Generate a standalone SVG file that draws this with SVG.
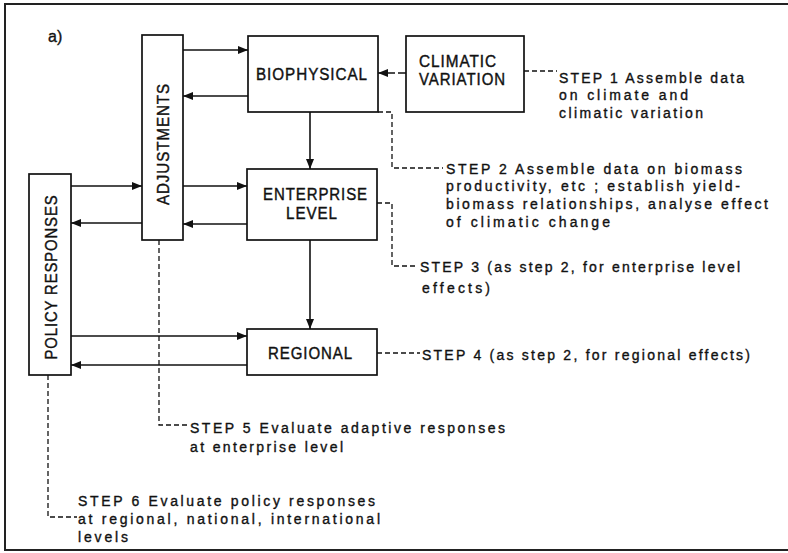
<svg xmlns="http://www.w3.org/2000/svg" width="788" height="553" viewBox="0 0 788 553">
<style>
.box{fill:#fff;stroke:#111;stroke-width:1.7}
.lbl{font-family:"Liberation Sans",Arial,sans-serif;font-size:16px;fill:#111;stroke:#111;stroke-width:0.4;letter-spacing:1px}
.txt{font-family:"Liberation Sans",Arial,sans-serif;font-size:14px;fill:#111;stroke:#111;stroke-width:0.35}
.arr{fill:none;stroke:#111;stroke-width:1.6;marker-end:url(#ah)}
.dash{fill:none;stroke:#111;stroke-width:1.3;stroke-dasharray:5,3}
</style>
<defs>
<marker id="ah" viewBox="0 0 10 8" refX="10" refY="4" markerWidth="10" markerHeight="8" markerUnits="userSpaceOnUse" orient="auto">
<path d="M0,0 L10,4 L0,8 z" fill="#111"/>
</marker>
</defs>
<rect width="788" height="553" fill="#fff"/>
<path d="M788,4 H5 V550 H788" fill="none" stroke="#222" stroke-width="2"/>
<text class="txt" x="48" y="42" style="font-size:16px">a)</text>

<g id="adjustments">
<rect class="box" x="142" y="35" width="41" height="205"/>
<text class="lbl" transform="translate(169,144) rotate(-90)" text-anchor="middle" textLength="122" lengthAdjust="spacingAndGlyphs">ADJUSTMENTS</text>
</g>
<g id="biophysical">
<rect class="box" x="248" y="36" width="130" height="76"/>
<text class="lbl" x="256" y="80" textLength="112" lengthAdjust="spacingAndGlyphs">BIOPHYSICAL</text>
</g>
<g id="climatic">
<rect class="box" x="406" y="36" width="118" height="76"/>
<text class="lbl" x="419" y="67" textLength="78" lengthAdjust="spacingAndGlyphs">CLIMATIC</text>
<text class="lbl" x="419" y="85" textLength="87" lengthAdjust="spacingAndGlyphs">VARIATION</text>
</g>
<g id="enterprise">
<rect class="box" x="247" y="169" width="130" height="71"/>
<text class="lbl" x="263" y="200" textLength="105" lengthAdjust="spacingAndGlyphs">ENTERPRISE</text>
<text class="lbl" x="286" y="219" textLength="52" lengthAdjust="spacingAndGlyphs">LEVEL</text>
</g>
<g id="policy">
<rect class="box" x="29" y="174" width="42" height="201"/>
<text class="lbl" transform="translate(57,277) rotate(-90)" text-anchor="middle" textLength="165" lengthAdjust="spacingAndGlyphs">POLICY RESPONSES</text>
</g>
<g id="regional">
<rect class="box" x="247" y="329" width="130" height="46"/>
<text class="lbl" x="268" y="359" textLength="85" lengthAdjust="spacingAndGlyphs">REGIONAL</text>
</g>

<g id="connectors">
<path class="arr" d="M183,50 H248"/>
<path class="arr" d="M248,96 H183"/>
<path class="arr" d="M406,73 H378" stroke-dasharray="8,3"/>
<path class="arr" d="M310,112 V169"/>
<path class="arr" d="M71,186 H142"/>
<path class="arr" d="M142,223 H71"/>
<path class="arr" d="M183,186 H247"/>
<path class="arr" d="M247,224 H183"/>
<path class="arr" d="M310,240 V329"/>
<path class="arr" d="M71,336 H247"/>
<path class="arr" d="M247,365 H71"/>
<path class="dash" d="M524,71 H557"/>
<path class="dash" d="M378,112 H392 V168 H443"/>
<path class="dash" d="M377,203 H392 V266 H418"/>
<path class="dash" d="M377,353 H420"/>
<path class="dash" d="M159,240 V425 H187"/>
<path class="dash" d="M48,375 V517 H77"/>
</g>

<g id="step1">
<text class="txt" x="559" y="83" textLength="185" lengthAdjust="spacing">STEP 1 Assemble data</text>
<text class="txt" x="559" y="100" textLength="129" lengthAdjust="spacing">on climate and</text>
<text class="txt" x="559" y="118" textLength="144" lengthAdjust="spacing">climatic variation</text>
</g>
<g id="step2">
<text class="txt" x="446" y="174" textLength="296" lengthAdjust="spacing">STEP 2 Assemble data on biomass</text>
<text class="txt" x="446" y="191" textLength="294" lengthAdjust="spacing">productivity, etc ; establish yield-</text>
<text class="txt" x="446" y="209" textLength="322" lengthAdjust="spacing">biomass relationships, analyse effect</text>
<text class="txt" x="446" y="227" textLength="164" lengthAdjust="spacing">of climatic change</text>
</g>
<g id="step3">
<text class="txt" x="420" y="272" textLength="320" lengthAdjust="spacing">STEP 3 (as step 2, for enterprise level</text>
<text class="txt" x="422" y="293" textLength="68" lengthAdjust="spacing">effects)</text>
</g>
<g id="step4">
<text class="txt" x="422" y="360" textLength="328" lengthAdjust="spacing">STEP 4 (as step 2, for regional effects)</text>
</g>
<g id="step5">
<text class="txt" x="190" y="433" textLength="315" lengthAdjust="spacing">STEP 5 Evaluate adaptive responses</text>
<text class="txt" x="190" y="452" textLength="153" lengthAdjust="spacing">at enterprise level</text>
</g>
<g id="step6">
<text class="txt" x="78" y="506" textLength="297" lengthAdjust="spacing">STEP 6 Evaluate policy responses</text>
<text class="txt" x="78" y="524" textLength="302" lengthAdjust="spacing">at regional, national, international</text>
<text class="txt" x="78" y="542" textLength="50" lengthAdjust="spacing">levels</text>
</g>
</svg>
